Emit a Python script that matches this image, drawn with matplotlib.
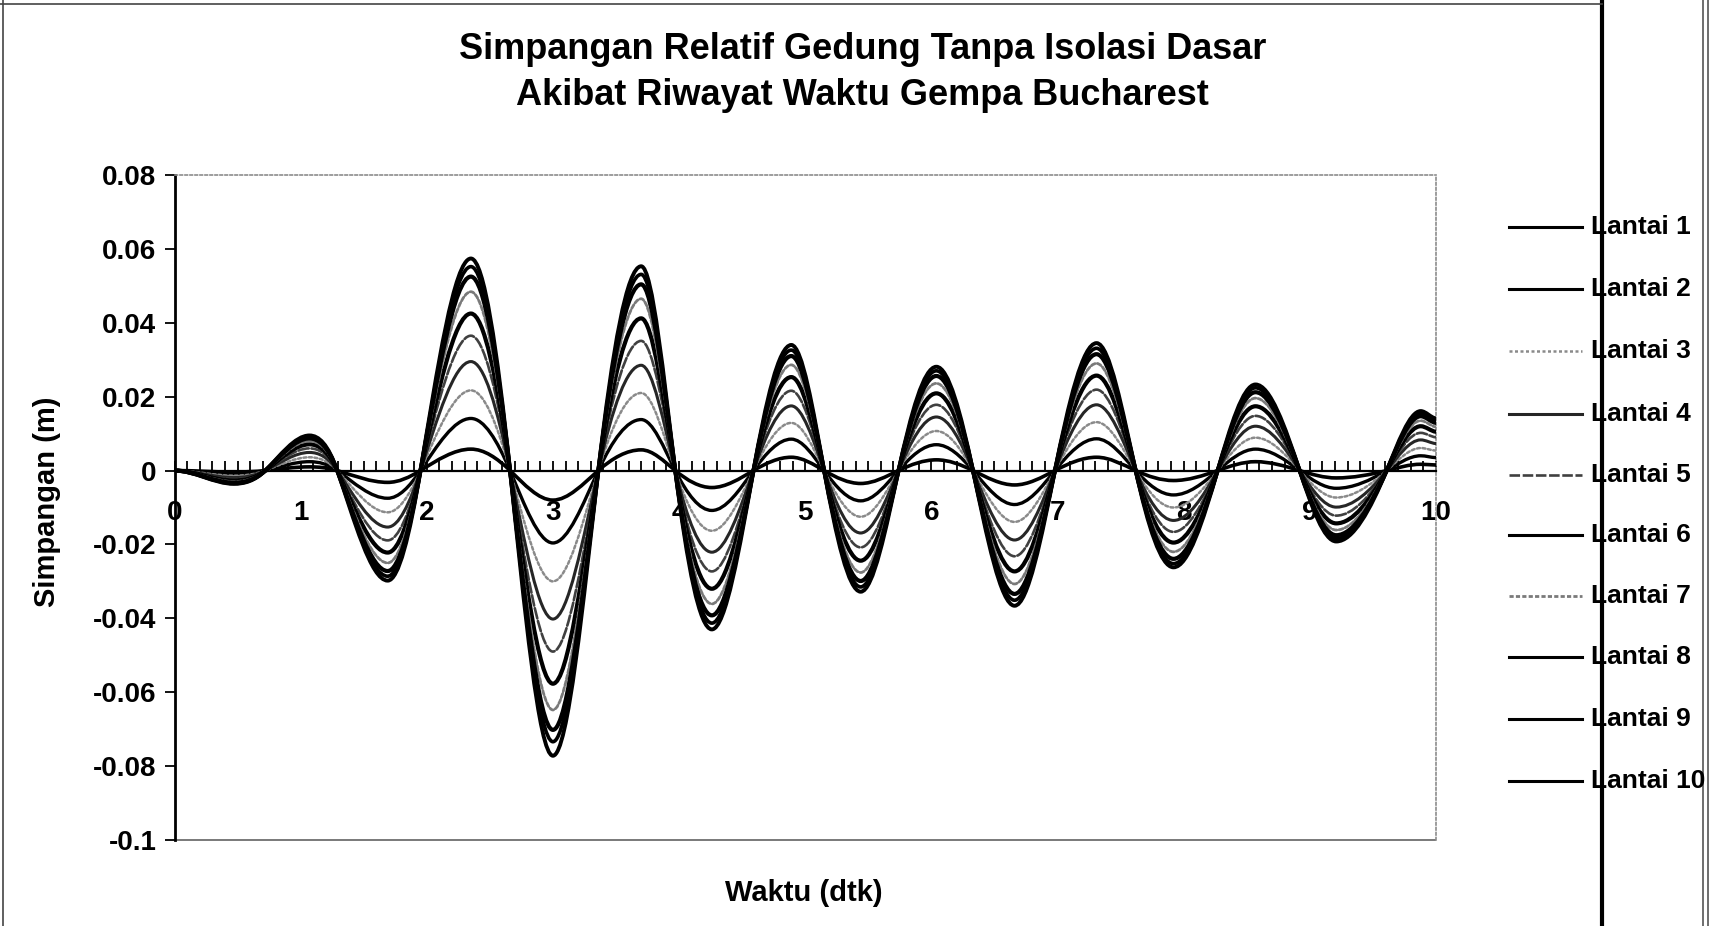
import numpy as np
import matplotlib
matplotlib.use("Agg")
import matplotlib.pyplot as plt
from matplotlib.path import Path
from matplotlib.patches import PathPatch, Rectangle
from matplotlib.lines import Line2D
from matplotlib.ticker import MultipleLocator, FuncFormatter

plt.rcParams['font.family'] = ['Liberation Sans', 'DejaVu Sans']

# ---------------- data ----------------
title_1 = "Simpangan Relatif Gedung Tanpa Isolasi Dasar"
title_2 = "Akibat Riwayat Waktu Gempa Bucharest"
x_label = "Waktu (dtk)"
y_label = "Simpangan (m)"

# times where all floors cross zero (s)
t_zero = [0.00, 0.72, 1.29, 1.95, 2.66, 3.36, 3.97, 4.59, 5.15, 5.74,
          6.33, 6.98, 7.62, 8.27, 8.92, 9.61]
# times of the extreme values (last one is the end of the record)
t_ext = [0.47, 1.07, 1.69, 2.35, 3.00, 3.70, 4.26, 4.89, 5.44, 6.04,
         6.66, 7.31, 7.92, 8.57, 9.21, 9.88, 10.00]

series_names = ["Lantai 1", "Lantai 2", "Lantai 3", "Lantai 4", "Lantai 5",
                "Lantai 6", "Lantai 7", "Lantai 8", "Lantai 9", "Lantai 10"]

# extreme displacements (m) of each floor at t_ext
lantai_1 = [-0.0004, 0.0010, -0.0032, 0.0058, -0.0080, 0.0056, -0.0046, 0.0036,
            -0.0035, 0.0029, -0.0039, 0.0036, -0.0027, 0.0024, -0.0020, 0.0017, 0.0015]
lantai_2 = [-0.0009, 0.0024, -0.0075, 0.0141, -0.0196, 0.0138, -0.0108, 0.0085,
            -0.0082, 0.0070, -0.0092, 0.0086, -0.0066, 0.0058, -0.0048, 0.0040, 0.0035]
lantai_3 = [-0.0014, 0.0036, -0.0113, 0.0217, -0.0300, 0.0210, -0.0163, 0.0129,
            -0.0125, 0.0107, -0.0139, 0.0131, -0.0100, 0.0089, -0.0073, 0.0061, 0.0054]
lantai_4 = [-0.0019, 0.0049, -0.0153, 0.0295, -0.0402, 0.0285, -0.0221, 0.0175,
            -0.0169, 0.0145, -0.0188, 0.0178, -0.0135, 0.0120, -0.0099, 0.0083, 0.0073]
lantai_5 = [-0.0023, 0.0060, -0.0189, 0.0365, -0.0490, 0.0351, -0.0273, 0.0216,
            -0.0208, 0.0178, -0.0232, 0.0219, -0.0166, 0.0148, -0.0122, 0.0102, 0.0090]
lantai_6 = [-0.0027, 0.0071, -0.0222, 0.0425, -0.0577, 0.0412, -0.0320, 0.0253,
            -0.0244, 0.0209, -0.0273, 0.0257, -0.0195, 0.0174, -0.0143, 0.0120, 0.0105]
lantai_7 = [-0.0030, 0.0080, -0.0250, 0.0484, -0.0648, 0.0465, -0.0361, 0.0286,
            -0.0276, 0.0236, -0.0307, 0.0290, -0.0220, 0.0196, -0.0161, 0.0135, 0.0118]
lantai_8 = [-0.0033, 0.0087, -0.0272, 0.0525, -0.0702, 0.0504, -0.0392, 0.0310,
            -0.0299, 0.0256, -0.0334, 0.0315, -0.0239, 0.0212, -0.0175, 0.0147, 0.0129]
lantai_9 = [-0.0035, 0.0091, -0.0286, 0.0552, -0.0734, 0.0531, -0.0413, 0.0326,
            -0.0315, 0.0270, -0.0351, 0.0331, -0.0252, 0.0224, -0.0184, 0.0155, 0.0135]
lantai_10 = [-0.0036, 0.0095, -0.0298, 0.0574, -0.0772, 0.0553, -0.0430, 0.0340,
             -0.0328, 0.0281, -0.0366, 0.0345, -0.0262, 0.0233, -0.0192, 0.0161, 0.0141]

all_series = [lantai_1, lantai_2, lantai_3, lantai_4, lantai_5,
              lantai_6, lantai_7, lantai_8, lantai_9, lantai_10]

y_ticks = [0.08, 0.06, 0.04, 0.02, 0.0, -0.02, -0.04, -0.06, -0.08, -0.1]
x_ticks = [0, 1, 2, 3, 4, 5, 6, 7, 8, 9, 10]

# ---------------- styles ----------------
styles = [
    dict(color="black", lw=2.6, ls="-"),
    dict(color="black", lw=2.4, ls="-"),
    dict(color="#8a8a8a", lw=1.8, ls=(0, (1.2, 1.0))),
    dict(color="#262626", lw=2.2, ls="-"),
    dict(color="#404040", lw=1.9, ls=(0, (4, 1))),
    dict(color="black", lw=3.0, ls="-"),
    dict(color="#7a7a7a", lw=2.0, ls=(0, (1.5, 0.8))),
    dict(color="black", lw=3.0, ls="-"),
    dict(color="black", lw=2.6, ls="-"),
    dict(color="black", lw=2.8, ls="-"),
]


def smooth_path(t, y, k=1.55):
    """Smoothed-line path (like a spreadsheet smoothed line) through the points."""
    t = np.asarray(t, float)
    y = np.asarray(y, float)
    n = len(t)
    m = np.zeros(n)
    for i in range(1, n - 1):
        if y[i] == 0.0:
            m[i] = k * (y[i + 1] - y[i - 1]) / (t[i + 1] - t[i - 1])
        else:
            m[i] = 0.0
    m[-1] = (y[-1] - y[-2]) / (t[-1] - t[-2]) * 0.3
    verts = [(t[0], y[0])]
    codes = [Path.MOVETO]
    for i in range(n - 1):
        dx = t[i + 1] - t[i]
        verts += [(t[i] + dx / 3, y[i] + m[i] * dx / 3),
                  (t[i + 1] - dx / 3, y[i + 1] - m[i + 1] * dx / 3),
                  (t[i + 1], y[i + 1])]
        codes += [Path.CURVE4] * 3
    return Path(verts, codes)


fig = plt.figure(figsize=(17.11, 9.26), dpi=100)
ax = fig.add_axes([0.1020, 0.0929, 0.7372, 0.7181])
ax.set_xlim(0, 10)
ax.set_ylim(-0.1, 0.08)

# build each series: zeros at t_zero, extremes at t_ext
for name, ext, st in zip(series_names, all_series, styles):
    pts = sorted([(tz, 0.0) for tz in t_zero] + list(zip(t_ext, ext)))
    tt = [p[0] for p in pts]
    yy = [p[1] for p in pts]
    patch = PathPatch(smooth_path(tt, yy), fill=False, edgecolor=st["color"],
                      lw=st["lw"], linestyle=st["ls"], capstyle="round",
                      joinstyle="round", zorder=3)
    ax.add_patch(patch)

# axes styling
ax.set_axisbelow(True)
ax.spines["bottom"].set_position(("data", 0))
ax.spines["bottom"].set_linewidth(1.6)
ax.spines["left"].set_linewidth(2.0)
for s in ["top", "right"]:
    ax.spines[s].set_color("#8c8c8c")
    ax.spines[s].set_linestyle((0, (1.5, 1.5)))
    ax.spines[s].set_linewidth(1.2)
ax.add_patch(Rectangle((0, 0), 1, 0, transform=ax.transAxes, fill=False,
                       edgecolor="#6e6e6e", lw=1.3, clip_on=False))

ax.set_xticks(x_ticks)
ax.xaxis.set_minor_locator(MultipleLocator(0.1))
ax.tick_params(axis="x", which="both", direction="in", length=7, width=1.3,
               pad=21, labelsize=20)
ax.set_yticks(y_ticks)
ax.yaxis.set_major_formatter(FuncFormatter(lambda v, p: f"{round(v, 2):g}"))
ax.tick_params(axis="y", which="major", direction="out", length=7, width=1.3,
               pad=6, labelsize=20)
for lab in ax.get_xticklabels() + ax.get_yticklabels():
    lab.set_fontweight("bold")

fig.text(0.0275, 0.458, y_label, rotation=90,
         ha="center", va="center", fontsize=21, fontweight="bold")
fig.text(0.4695, 0.0355, x_label, ha="center", va="center",
         fontsize=21, fontweight="bold")

fig.text(0.504, 0.947, title_1, ha="center", va="center",
         fontsize=26, fontweight="bold")
fig.text(0.504, 0.897, title_2, ha="center", va="center",
         fontsize=26, fontweight="bold")

# legend (manual, right side)
leg_y_px = [227, 289, 351, 414, 475, 535, 596, 657, 719, 781]
for name, st, ypx in zip(series_names, styles, leg_y_px):
    yf = 1 - ypx / 926
    fig.add_artist(Line2D([1509 / 1711, 1582 / 1711], [yf, yf],
                          color=st["color"], lw=min(st["lw"], 2.2),
                          linestyle=st["ls"], transform=fig.transFigure))
    fig.text(1591 / 1711, yf, name, ha="left", va="center",
             fontsize=19, fontweight="bold")

# chart frame lines from the scanned page
fig.add_artist(Line2D([1602 / 1711, 1602 / 1711], [0, 1], color="black",
                      lw=3.0, transform=fig.transFigure))
fig.add_artist(Line2D([1703 / 1711, 1703 / 1711], [0, 1], color="#555555",
                      lw=1.2, transform=fig.transFigure))
fig.add_artist(Line2D([1708 / 1711, 1708 / 1711], [0, 1], color="#555555",
                      lw=1.2, transform=fig.transFigure))
fig.add_artist(Line2D([0, 1602 / 1711], [0.996, 0.996], color="#444444",
                      lw=1.2, transform=fig.transFigure))
fig.add_artist(Line2D([0.002, 0.002], [0, 1], color="#444444",
                      lw=1.2, transform=fig.transFigure))

fig.savefig("out.png", dpi=100)
